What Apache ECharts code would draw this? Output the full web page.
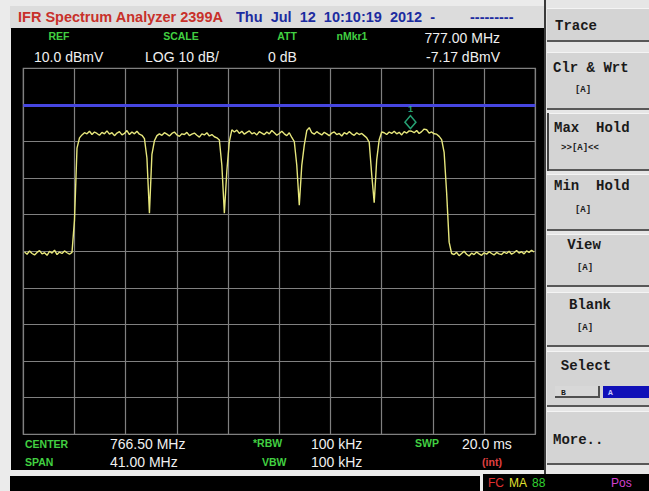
<!DOCTYPE html>
<html><head><meta charset="utf-8">
<script src="https://cdn.jsdelivr.net/npm/echarts/dist/echarts.min.js"></script>
<style>html,body{margin:0;padding:0;background:#e8e8e8;}#c{width:649px;height:491px;}</style>
</head><body><div id="c"></div><script>
// Sweep: first point and spacing of the analyzer's trace bins (MHz)
const startFreq = 746.1;
const stepFreq = 0.2;
const spanStart = 746.0, spanStop = 787.0;
const refLevel = 10, bottomLevel = -90, dbPerDiv = 10;
const displayLine = 0;
const markerFreq = 777.0, markerLevel = -7.17;

// Trace levels (dBmV)
const floorLeft = [-40.2,-40.8,-39.9,-40.6,-41.0,-40.3,-39.8,-40.7,-40.4,-41.1,-40.0,-40.5,-39.7,-40.9,-40.2,-40.6,-39.9,-40.4,-40.8,-40.3];
const risingEdge = [-31.4,-11.8];
const channel1 = [-9.0,-8.2,-7.6,-7.9,-7.2,-8.1,-7.4,-7.8,-8.3,-7.5,-7.9,-7.1,-8.0,-7.6,-8.4,-7.7,-7.3,-8.2,-7.8,-7.0,-8.1,-7.4,-7.9,-7.2,-8.0,-8.3,-9.2,-14.5,-29.6,-13.5,-9.8,-8.4];
const channel2 = [-7.9,-8.3,-7.6,-8.0,-8.5,-7.8,-7.4,-8.2,-8.6,-7.9,-8.1,-7.5,-8.4,-8.0,-7.7,-8.3,-8.8,-7.9,-8.2,-7.6,-8.5,-8.1,-8.7,-9.0,-9.6,-16.5,-29.6,-18.0,-10.0,-6.8];
const channel3 = [-7.4,-6.9,-7.8,-7.2,-8.0,-7.5,-7.1,-7.9,-7.6,-8.2,-7.3,-7.7,-8.1,-7.4,-7.9,-7.0,-7.6,-8.3,-7.8,-7.2,-7.9,-8.4,-7.6,-8.9,-10.0,-16.5,-27.4,-16.5,-11.0,-7.0];
const channel4 = [-6.2,-7.6,-8.0,-7.3,-7.8,-8.2,-7.5,-7.9,-8.4,-7.7,-7.4,-8.1,-7.8,-8.5,-7.6,-8.0,-7.3,-7.9,-8.3,-7.6,-8.1,-7.8,-8.4,-9.0,-10.2,-19.0,-26.7,-15.0,-9.5,-7.4];
const channel5 = [-7.6,-8.1,-7.4,-7.8,-7.2,-7.9,-7.5,-8.2,-7.3,-7.7,-7.1,-7.2,-7.6,-7.0,-7.8,-7.3,-6.6,-6.8,-7.7,-7.4,-7.9,-8.0,-8.6,-9.5,-13.0,-24.0,-37.5,-40.6];
const floorRight = [-40.9,-40.3,-41.2,-40.6,-40.0,-40.8,-41.3,-40.5,-40.9,-40.2,-40.7,-41.1,-40.4,-40.8,-40.1,-40.6,-41.0,-40.3,-40.7,-40.9,-40.2,-40.6,-40.0,-40.8,-40.4,-39.8,-40.5,-40.1,-40.7,-39.9,-40.3,-39.7,-40.2];

const traceLevels = [].concat(floorLeft, risingEdge, channel1, channel2, channel3, channel4, channel5, floorRight);
const traceData = traceLevels.map((v, i) => [+(startFreq + i * stepFreq).toFixed(2), v]);

const SANS = '"Liberation Sans", Arial, sans-serif';
const MONO = '"Liberation Mono", "DejaVu Sans Mono", monospace';
function T(text, x, y, fill, font, align) {
  return { type: 'text', z: 50, silent: true,
    style: { text: text, x: x, y: y, fill: fill, font: font, textAlign: align || 'left', textVerticalAlign: 'middle' } };
}
function R(x, y, w, h, fill, z) {
  return { type: 'rect', z: z == null ? -10 : z, silent: true, shape: { x: x, y: y, width: w, height: h }, style: { fill: fill } };
}
function button(y0, y1, pressed) {
  const els = [R(547, y0, 102, y1 - y0, '#d4d4d4', -8), R(547, y0, 102, 1, '#f4f4f4', -7), R(547, y1 - 2, 102, 2, '#585858', -7)];
  if (pressed) els.push(R(547, y0, 2, y1 - y0, '#404040', -7));
  return els;
}

const GREEN = '#42d042', WHITE = '#f0f0f0';
const LBL = 'bold 10.5px ' + SANS;
const VAL = '14px ' + SANS;
const graphics = [].concat(
  [R(0, 0, 649, 491, '#ebebeb', -12),
   R(10, 6, 535, 23, '#dcdcdc'),
   R(11, 28, 533, 442, '#000000', -9),
   R(10, 476, 470, 15, '#000000', -9),
   R(483, 474, 166, 17, '#000000', -9),
   R(544, 0, 105, 474, '#e6e6e6', -9),
   R(544, 0, 2, 474, '#3a3a3a', -7)],
  button(8, 42), button(52, 110), button(113, 171, true), button(174, 231),
  button(234, 287), button(292, 347), button(351, 407), button(411, 465),
  [R(555, 386, 45, 12, '#d8d8d8', -6), R(555, 396, 45, 2, '#505050', -5), R(598, 386, 2, 12, '#505050', -5),
   R(603, 386, 46, 12, '#1010b8', -6)],
  [
    T('IFR Spectrum Analyzer 2399A', 18, 17, '#c8302a', 'bold 14.5px ' + SANS),
    T('Thu  Jul  12  10:10:19  2012  -', 236, 17, '#1c2ca0', 'bold 14.5px ' + SANS),
    T('---------', 470, 17, '#1c2ca0', 'bold 14.5px ' + SANS),
    T('REF', 59, 36, GREEN, LBL, 'center'),
    T('SCALE', 181, 36, GREEN, LBL, 'center'),
    T('ATT', 287, 36, GREEN, LBL, 'center'),
    T('nMkr1', 352, 36, GREEN, LBL, 'center'),
    T('777.00 MHz', 500, 38, WHITE, VAL, 'right'),
    T('10.0 dBmV', 34, 57, WHITE, VAL),
    T('LOG 10 dB/', 145, 57, WHITE, VAL),
    T('0 dB', 268, 57, WHITE, VAL),
    T('-7.17 dBmV', 500, 57, WHITE, VAL, 'right'),
    T('CENTER', 25, 444, GREEN, LBL),
    T('SPAN', 25, 462, GREEN, LBL),
    T('*RBW', 253, 443, GREEN, LBL),
    T('VBW', 262, 462, GREEN, LBL),
    T('SWP', 415, 443, GREEN, LBL),
    T('766.50 MHz', 110, 444, WHITE, VAL),
    T('41.00 MHz', 110, 462, WHITE, VAL),
    T('100 kHz', 311, 444, WHITE, VAL),
    T('100 kHz', 311, 462, WHITE, VAL),
    T('20.0 ms', 462, 444, WHITE, VAL),
    T('(int)', 492, 462, '#e04040', LBL, 'center'),
    T('Trace', 555, 26, '#1a1a1a', 'bold 14px ' + MONO),
    T('Clr & Wrt', 553, 68, '#1a1a1a', 'bold 14px ' + MONO),
    T('[A]', 583, 90, '#1a1a1a', 'bold 9px ' + MONO, 'center'),
    T('Max  Hold', 554, 128, '#1a1a1a', 'bold 14px ' + MONO),
    T('>>[A]<<', 580, 148, '#1a1a1a', 'bold 9px ' + MONO, 'center'),
    T('Min  Hold', 554, 186, '#1a1a1a', 'bold 14px ' + MONO),
    T('[A]', 583, 210, '#1a1a1a', 'bold 9px ' + MONO, 'center'),
    T('View', 584, 245, '#1a1a1a', 'bold 14px ' + MONO, 'center'),
    T('[A]', 585, 268, '#1a1a1a', 'bold 9px ' + MONO, 'center'),
    T('Blank', 590, 305, '#1a1a1a', 'bold 14px ' + MONO, 'center'),
    T('[A]', 585, 328, '#1a1a1a', 'bold 9px ' + MONO, 'center'),
    T('Select', 586, 366, '#1a1a1a', 'bold 14px ' + MONO, 'center'),
    T('B', 561, 392, '#1a1a1a', 'bold 8px ' + MONO),
    T('A', 608, 392, '#c8c8ff', 'bold 8px ' + MONO),
    T('More..', 553, 440, '#1a1a1a', 'bold 14px ' + MONO),
    T('FC', 488, 483, '#e03030', '12px ' + SANS),
    T('MA', 509, 483, '#e0e030', '12px ' + SANS),
    T('88', 532, 483, '#30d030', '12px ' + SANS),
    T('Pos', 611, 483, '#d040d0', '12px ' + SANS)
  ]
);

const chart = echarts.init(document.getElementById('c'), null, { renderer: 'svg' });
chart.setOption({
  animation: false,
  grid: { left: 23.3, top: 68.3, width: 512, height: 366, show: true, borderColor: '#808080', borderWidth: 1.2, backgroundColor: 'transparent' },
  xAxis: [
    { type: 'value', min: spanStart, max: spanStop, show: false },
    { type: 'value', min: 0, max: 10, interval: 1, axisLine: { show: false }, axisTick: { show: false }, axisLabel: { show: false },
      splitLine: { show: true, lineStyle: { color: '#808080', width: 1.2 } } }
  ],
  yAxis: { type: 'value', min: bottomLevel, max: refLevel, interval: dbPerDiv, axisLine: { show: false }, axisTick: { show: false }, axisLabel: { show: false },
    splitLine: { show: true, lineStyle: { color: '#808080', width: 1.2 } } },
  graphic: { elements: graphics },
  series: [
    { type: 'line', xAxisIndex: 0, data: traceData, showSymbol: false, symbol: 'none', z: 3,
      lineStyle: { color: '#e6e67c', width: 1.4 },
      markLine: { silent: true, symbol: ['none', 'none'], label: { show: false },
        lineStyle: { color: '#4646e0', width: 3, type: 'solid' }, data: [{ yAxis: displayLine }] } },
    { type: 'scatter', xAxisIndex: 0, data: [[markerFreq, markerLevel]], symbol: 'diamond', symbolSize: [11, 13], symbolOffset: [0, -9], z: 5,
      itemStyle: { color: 'rgba(0,0,0,0)', borderColor: '#30c890', borderWidth: 1.5 },
      label: { show: true, formatter: '1', position: 'top', distance: 1, color: '#30c890', fontSize: 9, fontWeight: 'bold' } }
  ]
});
</script></body></html>
